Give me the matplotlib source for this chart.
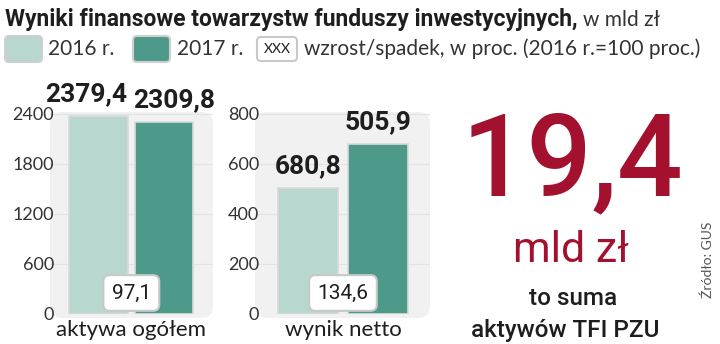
import matplotlib
matplotlib.use('Agg')
import matplotlib.pyplot as plt
from matplotlib.patches import FancyBboxPatch
from matplotlib import font_manager as fm
import matplotlib.transforms as mtransforms

# ---------------- data ----------------
categories = ['aktywa ogółem', 'wynik netto']
values_2016 = [2379.4, 505.9]
values_2017 = [2309.8, 680.8]
labels_2016 = ['2379,4', '680,8']   # as printed in the source graphic
labels_2017 = ['2309,8', '505,9']
growth_labels = ['97,1', '134,6']
yticks_left = [0, 600, 1200, 1800, 2400]
yticks_right = [0, 200, 400, 600, 800]
series_names = ['2016 r.', '2017 r.']
big_value = '19,4'

# ---------------- style ----------------
names = {f.name for f in fm.fontManager.ttflist}
def pick(*c):
    for n in c:
        if n in names:
            return n
    return 'DejaVu Sans'

NARROW = pick('Liberation Sans Narrow', 'DejaVu Sans Condensed', 'Roboto')
LIGHT = pick('Lato', 'Open Sans', 'Noto Sans')
ROBOTO = pick('Roboto', 'Lato')

C_LIGHT = '#b7d7cf'
C_DARK = '#4d9a8b'
C_RED = '#a3112f'
C_PANEL = '#f1f1f1'
C_TEXT = '#1e1e1e'

W, H = 720, 344
fig = plt.figure(figsize=(W / 100, H / 100), dpi=100)
fig.patch.set_facecolor('white')

def fx(x):
    return x / W

def fy(y):
    return 1 - y / H

def make_axes(l, r, t, b):
    return fig.add_axes([l / W, 1 - b / H, (r - l) / W, (b - t) / H])

panels = [
    dict(box=(50, 213, 112, 314), xlim=(-0.745, 1.75), ylim=(0, 2424),
         yticks=yticks_left, width=0.9, dx=(-9, 7)),
    dict(box=(255, 430, 112, 314), xlim=(-0.757, 1.743), ylim=(0, 808),
         yticks=yticks_right, width=0.87, dx=(0, 0)),
]

for i, p in enumerate(panels):
    l, r, t, b = p['box']
    ax = make_axes(l, r, t, b)
    ax.set_xlim(*p['xlim'])
    ax.set_ylim(*p['ylim'])
    ax.patch.set_visible(False)
    for s in ax.spines.values():
        s.set_visible(False)
    pw, ph = r - l, b - t
    panel = FancyBboxPatch((0, -4 / ph), 1, 1 + 4 / ph,
                           boxstyle='round,pad=0,rounding_size=%f' % (12 / pw),
                           mutation_aspect=pw / ph,
                           transform=ax.transAxes, fc=C_PANEL, ec='none',
                           zorder=0, clip_on=False)
    ax.add_patch(panel)
    ax.set_axisbelow(True)
    ax.set_yticks(p['yticks'])
    ax.set_yticklabels([str(v) for v in p['yticks']], family=LIGHT,
                       fontsize=13, color='#333333')
    ax.tick_params(axis='y', length=0, pad=-3)
    ax.grid(axis='y', color='#e3e3e3', lw=0.9)

    w = p['width']
    ax.bar([0], [values_2016[i]], width=w, color=C_LIGHT,
           edgecolor='#dadada', lw=1.2, zorder=2)
    ax.bar([1], [values_2017[i]], width=w, color=C_DARK,
           edgecolor='#dadada', lw=1.2, zorder=2)

    for xpos, val, lab, dx in [(0, values_2016[i], labels_2016[i], p['dx'][0]),
                               (1, values_2017[i], labels_2017[i], p['dx'][1])]:
        ax.annotate(lab, xy=(xpos, val), xytext=(dx, 7),
                    textcoords='offset points', ha='center', va='bottom',
                    fontsize=19, fontweight='bold', family=NARROW,
                    color=C_TEXT, annotation_clip=False)

    trans = mtransforms.blended_transform_factory(ax.transData, ax.transAxes)
    ax.text(0.5, 0.104, growth_labels[i], transform=trans, ha='center',
            va='center', fontsize=15, family=ROBOTO, color=C_TEXT, zorder=5,
            bbox=dict(boxstyle='round,pad=0.4,rounding_size=0.3', fc='white',
                      ec='#c8c8c8', lw=1.5))

    ax.set_xticks([0.5])
    ax.set_xticklabels([categories[i]], family=LIGHT, fontsize=16,
                       color=C_TEXT)
    ax.tick_params(axis='x', length=0, pad=4)

# ---------------- title ----------------
renderer = fig.canvas.get_renderer()
t1 = fig.text(fx(5), fy(26), 'Wyniki finansowe towarzystw funduszy inwestycyjnych,',
              fontsize=16.5, fontweight='bold', family=NARROW, color=C_TEXT,
              va='baseline', ha='left')
bb = t1.get_window_extent(renderer)
fig.text(bb.x1 / W + 5 / W, fy(26), 'w mld zł', fontsize=15, family=LIGHT,
         color='#333333', va='baseline', ha='left')

# ---------------- legend ----------------
def box(x0, y0, x1, y1, fc, ec='#cfcfcf'):
    fig.add_artist(FancyBboxPatch((fx(x0), fy(y1)), (x1 - x0) / W, (y1 - y0) / H,
                                  boxstyle='round,pad=0,rounding_size=%f' % (4 / W),
                                  mutation_aspect=W / H, transform=fig.transFigure,
                                  fc=fc, ec=ec, lw=1.5))

box(5, 36, 42, 62, C_LIGHT)
fig.text(fx(48), fy(49), series_names[0], fontsize=15, family=LIGHT,
         color='#333333', va='center', ha='left')
box(133, 36, 170, 62, C_DARK)
fig.text(fx(177), fy(49), series_names[1], fontsize=15, family=LIGHT,
         color='#333333', va='center', ha='left')
box(257, 37, 297, 61, 'white', '#c8c8c8')
fig.text(fx(277), fy(49), 'XXX', fontsize=10, family=LIGHT, color=C_TEXT,
         va='center', ha='center')
fig.text(fx(304), fy(49), 'wzrost/spadek, w proc. (2016 r.=100 proc.)',
         fontsize=15, family=LIGHT, color='#333333', va='center', ha='left')

# ---------------- right side ----------------
fig.text(fx(572), fy(195), big_value, fontsize=83, family=ROBOTO,
         fontweight='medium', color=C_RED, ha='center', va='baseline')
fig.text(fx(571), fy(262), 'mld zł', fontsize=31, family=NARROW,
         color=C_RED, ha='center', va='baseline')
fig.text(fx(573), fy(305), 'to suma', fontsize=17.5, family=ROBOTO,
         fontweight='medium', color=C_TEXT, ha='center', va='baseline')
fig.text(fx(565), fy(337), 'aktywów TFI PZU', fontsize=17.5, family=ROBOTO,
         fontweight='medium', color=C_TEXT, ha='center', va='baseline')
fig.text(fx(708), fy(260), 'Źródło: GUS', fontsize=10, family=LIGHT,
         color='#555555', rotation=90, ha='center', va='center')

fig.savefig('out.png', dpi=100)
